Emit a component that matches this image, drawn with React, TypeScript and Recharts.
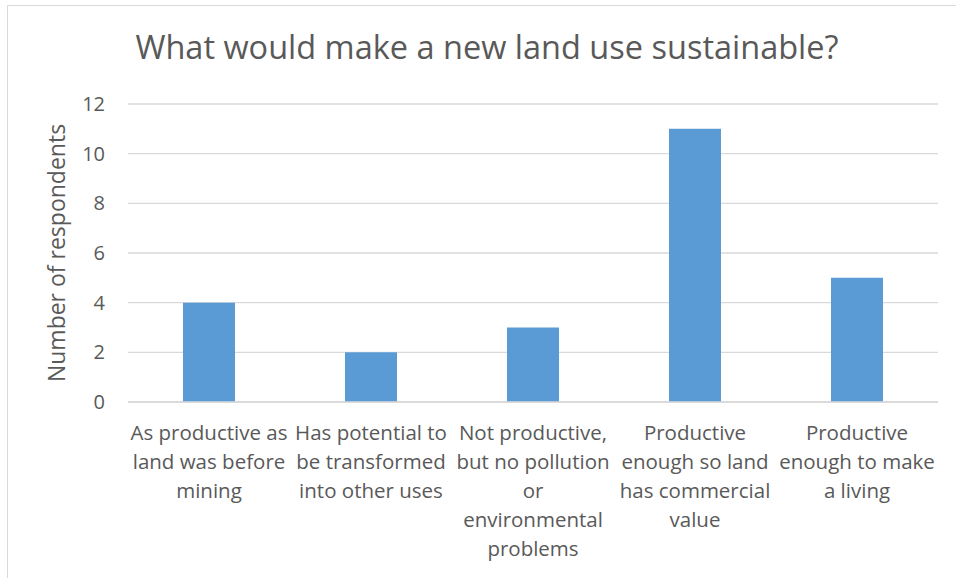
import { BarChart, Bar, XAxis, YAxis, CartesianGrid } from 'recharts';

const categories = [
  'As productive as\nland was before\nmining',
  'Has potential to\nbe transformed\ninto other uses',
  'Not productive,\nbut no pollution\nor\nenvironmental\nproblems',
  'Productive\nenough so land\nhas commercial\nvalue',
  'Productive\nenough to make\na living',
];
const respondents = [4, 2, 3, 11, 5];
const yTicks = [0, 2, 4, 6, 8, 10, 12];

const data = categories.map((name, i) => ({ name, value: respondents[i] }));

const FONT = '"Open Sans", sans-serif';
const TEXT = '#595959';

// etiqueta del eje X en varias líneas
const WrappedTick = (props: any) => {
  const { x, y, payload } = props;
  const lines = String(payload.value).split('\n');
  return (
    <text x={x} y={y + 30} textAnchor="middle" fill={TEXT} fontSize={20.5} fontFamily={FONT}>
      {lines.map((line, i) => (
        <tspan key={i} x={x} dy={i === 0 ? 0 : 29}>
          {line}
        </tspan>
      ))}
    </text>
  );
};

export default function App() {
  return (
    <div style={{ position: 'absolute', left: 0, top: 0, width: 956, height: 578, overflow: 'hidden', background: '#fff' }}>
      {/* marco del gráfico */}
      <div
        style={{
          position: 'absolute',
          left: 7,
          top: 5,
          width: 1000,
          height: 700,
          border: '1px solid #d9d9d9',
        }}
      />
      <div
        style={{
          position: 'absolute',
          top: 25,
          left: 0,
          width: 974,
          textAlign: 'center',
          fontFamily: FONT,
          fontSize: 32.5,
          color: TEXT,
          lineHeight: '44px',
        }}
      >
        What would make a new land use sustainable?
      </div>
      <div style={{ position: 'absolute', left: 0, top: 0 }}>
        <BarChart width={956} height={578} data={data} margin={{ top: 104, right: 18, bottom: 0, left: 0 }}>
          <CartesianGrid vertical={false} stroke="#d9d9d9" strokeWidth={1.3} />
          <XAxis
            dataKey="name"
            axisLine={{ stroke: '#d9d9d9', strokeWidth: 1.3 }}
            tickLine={false}
            height={176}
            interval={0}
            tick={<WrappedTick />}
          />
          <YAxis
            width={128}
            domain={[0, 12]}
            ticks={yTicks}
            axisLine={false}
            tickLine={false}
            tickSize={0}
            tickMargin={23}
            tick={{ fill: TEXT, fontSize: 20, fontFamily: FONT }}
            label={{
              value: 'Number of respondents',
              angle: -90,
              position: 'insideLeft',
              dx: 52,
              fill: TEXT,
              fontSize: 23,
              fontFamily: FONT,
              style: { textAnchor: 'middle' },
            }}
          />
          <Bar dataKey="value" fill="#5B9BD5" barSize={52} isAnimationActive={false} />
        </BarChart>
      </div>
    </div>
  );
}
